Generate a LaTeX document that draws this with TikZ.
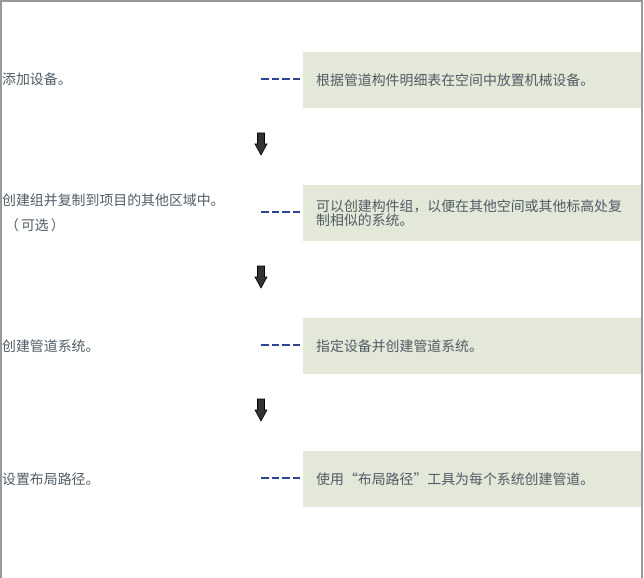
\documentclass[tikz,border=0pt]{standalone}
\usepackage{fontspec}
\setmainfont{Noto Sans CJK SC}
\definecolor{txt}{HTML}{505C64}
\definecolor{boxfill}{HTML}{E4E8D9}
\definecolor{dashblue}{HTML}{2E4591}
\definecolor{frame}{HTML}{999999}
\definecolor{arrowfill}{HTML}{333333}
\tikzset{
  box/.style={fill=boxfill, anchor=north west, minimum width=339bp, minimum height=56bp,
    text width=313bp, inner xsep=13bp, inner ysep=0pt, align=left, text=txt,
    font=\fontsize{13.9bp}{13.5bp}\selectfont},
  lefttext/.style={anchor=west, inner sep=0pt, align=left, text=txt,
    font=\fontsize{13.9bp}{13.5bp}\selectfont},
  dashline/.style={draw=dashblue, line width=1.8bp, dash pattern=on 7.5bp off 3bp, shorten >=2.5bp},
  blockarrow/.style={fill=arrowfill, draw=black, line width=0.6bp, line join=miter}
}
\begin{document}
\begin{tikzpicture}[x=1bp, y=-1bp]
\useasboundingbox (0,0) rectangle (644,578);
% frame
\draw[frame, line width=1.2bp] (1,578) -- (1,1) -- (642,1) -- (642,578);
% boxes
\node[box] (b1) at (303,52) {根据管道构件明细表在空间中放置机械设备。};
\node[box] (b2) at (303,185) {可以创建构件组，以便在其他空间或其他标高处复\\制相似的系统。};
\node[box] (b3) at (303,318) {指定设备并创建管道系统。};
\node[box] (b4) at (303,451) {使用“布局路径”工具为每个系统创建管道。};
% redraw right frame line above boxes
\draw[frame, line width=1.2bp] (642,1) -- (642,578);
% left texts
\node[lefttext] (l1) at (2,79) {添加设备。};
\node[lefttext] (l2) at (2,212.5) {创建组并复制到项目的其他区域中。\\[11.5bp]\hspace*{3bp}（\hspace{2bp}可选\hspace{2bp}）};
\node[lefttext] (l3) at (2,346) {创建管道系统。};
\node[lefttext] (l4) at (2,479) {设置布局路径。};
% dashed connectors
\coordinate (d1) at (261,79);
\coordinate (d2) at (261,212);
\coordinate (d3) at (261,345);
\coordinate (d4) at (261,478);
\draw[dashline] (d1) -- (d1 -| b1.west);
\draw[dashline] (d2) -- (d2 -| b2.west);
\draw[dashline] (d3) -- (d3 -| b3.west);
\draw[dashline] (d4) -- (d4 -| b4.west);
% block arrows
\foreach \n/\yy in {1/133, 2/266, 3/399} {
  \coordinate (a\n) at (261,\yy);
  \draw[blockarrow] (a\n) ++(-3.5,0) -- ++(7,0) -- ++(0,11) -- ++(2.5,0) -- ++(-6,11) -- ++(-6,-11) -- ++(2.5,0) -- cycle;
}
\end{tikzpicture}
\end{document}
